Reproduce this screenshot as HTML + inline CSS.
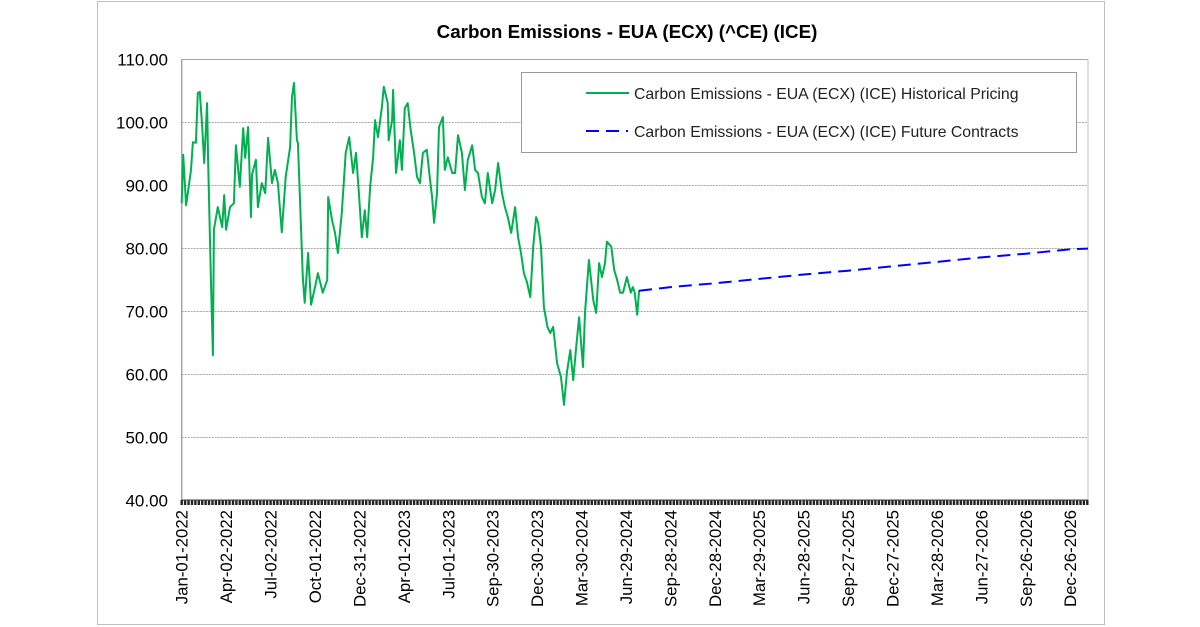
<!DOCTYPE html>
<html><head><meta charset="utf-8"><style>
html,body{margin:0;padding:0;background:#fff;}
svg{display:block;font-family:"Liberation Sans",Arial,sans-serif;}
</style></head><body>
<svg id="chart" width="1200" height="627" viewBox="0 0 1200 627" xmlns="http://www.w3.org/2000/svg">
<rect x="97.5" y="1.5" width="1007" height="623" fill="#fff" stroke="#bfbfbf"/>
<text x="627" y="38" text-anchor="middle" font-size="18.8" font-weight="bold" fill="#000">Carbon Emissions - EUA (ECX) (^CE) (ICE)</text>
<g id="grid"></g>
<g id="yaxis"></g>
<g id="xaxis"></g>
<g id="series"></g>
<g>
<rect x="521.5" y="72.5" width="555" height="80" fill="#fff" stroke="#999"/>
<line x1="586" y1="93" x2="629" y2="93" stroke="#00b050" stroke-width="2"/>
<text x="634" y="99" font-size="15.8" fill="#222">Carbon Emissions - EUA (ECX) (ICE) Historical Pricing</text>
<line x1="586" y1="131" x2="630" y2="131" stroke="#0000ff" stroke-width="2" stroke-dasharray="13,7,13,7,2,7"/>
<text x="634" y="137" font-size="15.8" fill="#222">Carbon Emissions - EUA (ECX) (ICE) Future Contracts</text>
</g>
</svg>
<script>
const yTicks = [40,50,60,70,80,90,100,110];
const xTickLabels = ["Jan-01-2022","Apr-02-2022","Jul-02-2022","Oct-01-2022","Dec-31-2022","Apr-01-2023","Jul-01-2023","Sep-30-2023","Dec-30-2023","Mar-30-2024","Jun-29-2024","Sep-28-2024","Dec-28-2024","Mar-29-2025","Jun-28-2025","Sep-27-2025","Dec-27-2025","Mar-28-2026","Jun-27-2026","Sep-26-2026","Dec-26-2026"];
const histDays = [0,3,9,13,19,23,29,33,37,42,46,52,54,60,64,66,74,83,87,91,99,107,111,119,126,130,136,142,144,152,156,164,171,177,185,191,197,205,213,222,226,230,236,238,244,248,252,259,265,273,279,289,298,300,308,314,320,328,336,343,351,357,363,369,375,380,386,392,396,402,410,414,422,424,431,433,439,447,451,457,463,469,476,482,488,494,502,508,513,517,523,527,535,539,545,554,560,566,574,580,586,595,601,607,615,621,627,636,642,648,656,662,668,675,683,689,695,701,707,714,720,726,730,736,742,749,755,761,769,777,783,789,796,802,808,814,822,826,834,843,849,855,861,867,871,880,886,892,898,904,912,920,924,928,933,937];
const histValues = [87.1,94.8,86.8,88.9,92.4,96.8,96.7,104.6,104.8,99.2,93.5,103.0,94.0,74.4,63.0,82.9,86.5,83.3,88.4,82.9,86.5,87.1,96.3,89.7,99.0,94.3,99.2,84.9,91.6,94.0,86.5,90.3,88.7,97.5,90.3,92.4,90.3,82.5,91.3,96.0,104.0,106.2,97.1,96.7,84.1,75.4,71.3,79.2,71.0,73.8,76.0,72.9,74.9,88.1,84.4,82.4,79.2,85.6,95.1,97.6,91.9,95.1,88.7,81.7,86.0,81.7,89.7,94.3,100.3,97.6,102.4,105.6,103.0,97.1,100.3,105.1,91.9,97.1,92.4,102.2,103.0,98.7,95.1,91.3,90.3,95.1,95.6,91.3,88.1,84.0,88.7,99.2,100.8,92.4,94.4,91.9,91.9,97.9,95.1,89.2,94.0,96.3,92.4,91.9,88.1,87.1,91.9,87.1,89.2,93.5,88.7,86.5,84.9,82.4,86.5,81.7,79.2,76.0,74.6,72.2,80.2,84.9,84.0,80.2,70.6,67.5,66.5,67.5,61.7,59.5,55.1,60.2,63.8,59.0,64.3,69.0,61.1,69.7,78.1,71.7,69.7,77.6,75.4,77.6,81.0,80.2,76.5,74.9,72.9,72.9,75.4,72.9,73.8,72.9,69.4,73.3];
const futDays = [937,1001,1092,1183,1274,1365,1456,1547,1638,1729,1820,1862];
const futValues = [73.2,73.8,74.4,75.1,75.8,76.4,77.1,77.8,78.5,79.1,79.8,79.9];

const X0 = 181.7, PX_PER_DAY = 0.4882, XR = 1088;
const YT = 59, YB = 500, YMIN = 40, YMAX = 110;
const NS = "http://www.w3.org/2000/svg";
function xScale(d){ return X0 + d*PX_PER_DAY; }
function yScale(v){ return YB - (v-YMIN)/(YMAX-YMIN)*(YB-YT); }
function mk(tag, attrs, parent){ const e=document.createElementNS(NS,tag); for(const k in attrs) e.setAttribute(k,attrs[k]); parent.appendChild(e); return e; }

const grid=document.getElementById('grid'), ya=document.getElementById('yaxis'), xa=document.getElementById('xaxis'), ser=document.getElementById('series');
yTicks.forEach(v=>{
  const y=Math.round(yScale(v))+0.5;
  const gl=mk('line',{x1:X0,x2:XR,y1:y,y2:y,stroke:'#a6a6a6','stroke-width':1,'stroke-dasharray':v===YMAX?'none':'2,1'},grid);
  
  
  const t=mk('text',{x:168,y:y+6,'text-anchor':'end','font-size':17,fill:'#000'},ya);
  t.textContent=v.toFixed(2);
  
  
});
const la=mk('line',{x1:X0,x2:X0,y1:YT,y2:YB,stroke:'#a6a6a6','stroke-width':1.5},grid);


const ra=mk('line',{x1:XR,x2:XR,y1:YT,y2:YB,stroke:'#bfbfbf','stroke-width':1},grid);


let tp='';
for(let d=0; xScale(d)<=XR; d+=7){ const x=xScale(d); tp+='M'+x.toFixed(1)+' '+YB+'V'+(YB+5); }
const tk=mk('path',{d:tp,stroke:'#222','stroke-width':2.4},xa);


const xl=mk('line',{x1:X0,x2:XR,y1:YB,y2:YB,stroke:'#444','stroke-width':1},xa);


xTickLabels.forEach((lab,i)=>{
  const x=xScale(i*91);
  const t=mk('text',{transform:'translate('+(x+6)+',510) rotate(-90)','text-anchor':'end','font-size':16.8,fill:'#000'},xa);
  t.textContent=lab;
  
  
});
const hp=histDays.map((d,i)=>(i?'L':'M')+xScale(d).toFixed(1)+' '+yScale(histValues[i]).toFixed(1)).join('');
const h=mk('path',{d:hp,fill:'none',stroke:'#00b050','stroke-width':2,'stroke-linejoin':'round'},ser);


const fp=futDays.map((d,i)=>(i?'L':'M')+Math.min(xScale(d),XR).toFixed(1)+' '+yScale(futValues[i]).toFixed(1)).join('');
const f=mk('path',{d:fp,fill:'none',stroke:'#0000ff','stroke-width':2,'stroke-dasharray':'13,7'},ser);


</script>
</body></html>
